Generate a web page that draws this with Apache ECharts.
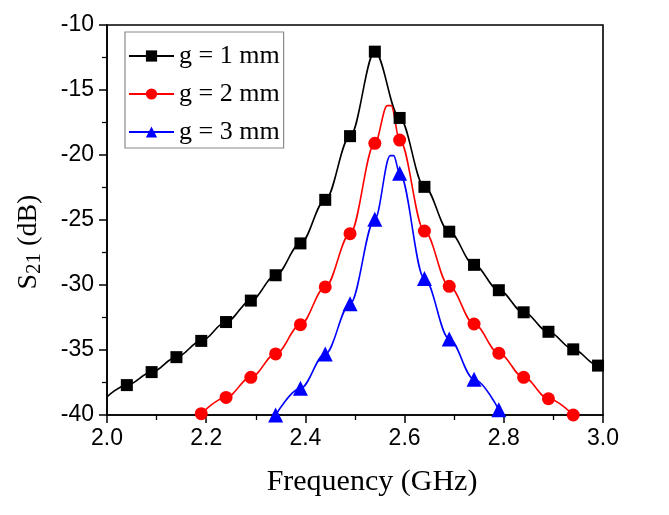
<!DOCTYPE html>
<html><head><meta charset="utf-8">
<script src="https://cdn.jsdelivr.net/npm/echarts@6/dist/echarts.min.js"></script>
<style>html,body{margin:0;padding:0;background:#fff}#c{width:669px;height:515px}</style>
</head><body><div id="c"></div>
<script>
// Marker frequencies (GHz) and S21 values (dB)
const freqG1 = [2.04,2.09,2.14,2.19,2.24,2.29,2.34,2.39,2.44,2.49,2.54,2.59,2.64,2.69,2.74,2.79,2.84,2.89,2.94,2.99];
const s21G1  = [-37.7,-36.7,-35.55,-34.3,-32.85,-31.2,-29.25,-26.8,-23.45,-18.55,-12.05,-17.15,-22.45,-25.9,-28.45,-30.4,-32.1,-33.6,-34.95,-36.2];
const freqG2 = [2.19,2.24,2.29,2.34,2.39,2.44,2.49,2.54,2.59,2.64,2.69,2.74,2.79,2.84,2.89,2.94];
const s21G2  = [-39.9,-38.65,-37.1,-35.3,-33.05,-30.15,-26.05,-19.1,-18.85,-25.85,-30.1,-33.0,-35.25,-37.1,-38.75,-40.0];
const freqG3 = [2.34,2.39,2.44,2.49,2.54,2.59,2.64,2.69,2.74,2.79];
const s21G3  = [-40.0,-37.95,-35.3,-31.45,-24.95,-21.4,-29.5,-34.15,-37.25,-39.6];
// Extra curve points (no marker)
const curveG1 = [[2.0,-38.6],[3.0,-36.45]];
const curveG2 = [[2.565,-16.2],[2.573,-16.2]];
const curveG3 = [[2.571,-20.05],[2.578,-20.05]];
const names = ['g = 1 mm','g = 2 mm','g = 3 mm'];
const xTicks = [2.0,2.2,2.4,2.6,2.8,3.0];
const yTicks = [-40,-35,-30,-25,-20,-15,-10];

function build(fr, vals, extra){
  const pts = fr.map((f,i)=>({value:[f,vals[i]]}));
  extra.forEach(p=>pts.push({value:p, symbol:'none'}));
  pts.sort((a,b)=>a.value[0]-b.value[0]);
  return pts;
}
const sets = [
  {d:build(freqG1,s21G1,curveG1), c:'#000000', s:'rect', size:12, z:14},
  {d:build(freqG2,s21G2,curveG2), c:'#ff0000', s:'circle', size:13, z:14},
  {d:build(freqG3,s21G3,curveG3), c:'#0000ff', s:'triangle', size:15, z:15}
];
const chart = echarts.init(document.getElementById('c'));
chart.setOption({
  animation:false,
  backgroundColor:'#fff',
  grid:{left:107,right:66,top:25,bottom:100,show:true,borderColor:'#000',borderWidth:1.6,backgroundColor:'transparent'},
  legend:{
    orient:'vertical', left:125, top:32, data:names,
    borderColor:'#8a8a8a', borderWidth:1.2, padding:[11,4,3,3],
    itemWidth:45, itemHeight:14, itemGap:12,
    textStyle:{fontFamily:'Liberation Serif', fontSize:26, lineHeight:26, color:'#000'}
  },
  xAxis:{
    type:'value', min:xTicks[0], max:xTicks[xTicks.length-1], interval:0.2,
    axisLine:{onZero:false,lineStyle:{color:'#000',width:1.6}},
    axisTick:{inside:false,length:8,lineStyle:{color:'#000',width:1.5}},
    minorTick:{show:true,splitNumber:2,length:5,lineStyle:{color:'#000',width:1.3}},
    splitLine:{show:false},
    axisLabel:{margin:12,fontFamily:'Liberation Sans',fontSize:23,color:'#000',formatter:v=>v.toFixed(1)},
    name:'Frequency (GHz)', nameLocation:'middle', nameGap:52,
    nameTextStyle:{fontFamily:'Liberation Serif',fontSize:30,color:'#000',padding:[0,0,0,34]}
  },
  yAxis:{
    type:'value', min:yTicks[0], max:yTicks[yTicks.length-1], interval:5,
    axisLine:{onZero:false,lineStyle:{color:'#000',width:1.6}},
    axisTick:{inside:false,length:8,lineStyle:{color:'#000',width:1.5}},
    minorTick:{show:true,splitNumber:2,length:5,lineStyle:{color:'#000',width:1.3}},
    splitLine:{show:false},
    axisLabel:{margin:13,fontFamily:'Liberation Sans',fontSize:23,color:'#000'},
    name:'{a|S}{b|21}{a| (dB)}', nameLocation:'middle', nameGap:62,
    nameTextStyle:{padding:[0,44,0,0],rich:{
      a:{fontFamily:'Liberation Serif',fontSize:28,color:'#000'},
      b:{fontFamily:'Liberation Serif',fontSize:21,color:'#000',padding:[12,0,0,0]}
    }}
  },
  series: sets.map((o,i)=>({
    name:names[i], type:'line', data:o.d, smooth:0.35, smoothMonotone:'x',
    symbol:o.s, symbolSize:o.size, showAllSymbol:true,
    clip:true, z:o.z,
    lineStyle:{color:o.c,width:1.6}, itemStyle:{color:o.c}
  }))
});
</script></body></html>
